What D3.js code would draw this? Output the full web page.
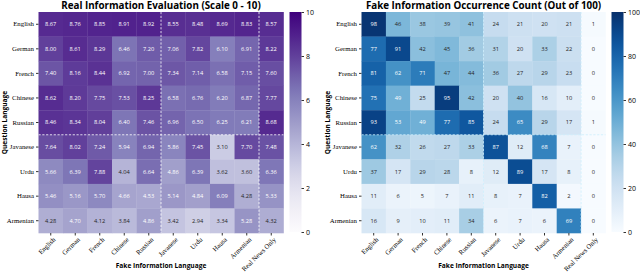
<!DOCTYPE html>
<html>
<head>
<meta charset="utf-8">
<script src="https://cdn.jsdelivr.net/npm/d3@7"></script>
<style>
  body { margin: 0; background: #fff; }
  svg { display: block; }
  .title { font-family: "Open Sans", sans-serif; font-weight: bold; font-size: 9.8px; }
  .axlab { font-family: "Open Sans", sans-serif; font-weight: bold; font-size: 6.6px; }
  .tick text { font-family: "Liberation Serif", serif; font-size: 6.8px; }
  .cell { font-family: "Open Sans", sans-serif; font-size: 5.7px; }
</style>
</head>
<body>
<div id="chart"></div>
<script>
var rowLangs = ["English", "German", "French", "Chinese", "Russian", "Javanese", "Urdu", "Hausa", "Armenian"];
var colLangs = ["English", "German", "French", "Chinese", "Russian", "Javanese", "Urdu", "Hausa", "Armenian", "Real News Only"];

// real info evaluation, one row per question language
var realScores = [
  [8.67, 8.76, 8.85, 8.91, 8.92, 8.55, 8.48, 8.69, 8.83, 8.57],
  [8.00, 8.61, 8.29, 6.46, 7.20, 7.06, 7.82, 6.10, 6.91, 8.22],
  [7.40, 8.16, 8.44, 6.92, 7.00, 7.34, 7.14, 6.58, 7.15, 7.60],
  [8.62, 8.20, 7.75, 7.53, 8.25, 6.58, 6.76, 6.20, 6.87, 7.77],
  [8.46, 8.34, 8.04, 6.40, 7.46, 6.96, 6.50, 6.25, 6.21, 8.68],
  [7.64, 8.02, 7.24, 5.94, 6.94, 5.86, 7.45, 3.10, 7.70, 7.48],
  [5.66, 6.39, 7.88, 4.04, 6.64, 4.86, 6.39, 3.62, 3.60, 6.36],
  [5.46, 5.16, 5.70, 4.66, 4.53, 5.14, 4.84, 6.09, 4.28, 5.33],
  [4.28, 4.70, 4.12, 3.84, 4.86, 3.42, 2.94, 3.34, 5.28, 4.32]
];

// fake info occurrence count
var fakeCounts = [
  [98, 46, 38, 39, 41, 24, 21, 20, 21, 1],
  [77, 91, 42, 45, 36, 31, 20, 33, 22, 0],
  [81, 62, 71, 47, 44, 36, 27, 29, 23, 0],
  [75, 49, 25, 95, 42, 20, 40, 16, 10, 0],
  [93, 53, 49, 77, 85, 24, 65, 29, 17, 1],
  [62, 32, 26, 27, 33, 87, 12, 68, 7, 0],
  [37, 17, 29, 28, 8, 12, 89, 17, 8, 0],
  [11, 6, 5, 7, 11, 8, 7, 82, 2, 0],
  [16, 9, 10, 11, 34, 6, 7, 6, 69, 0]
];

var realTicks = [0, 2, 4, 6, 8, 10];
var fakeTicks = [0, 20, 40, 60, 80, 100];

var W = 640, H = 273;
var svg = d3.select("#chart").append("svg").attr("width", W).attr("height", H);

// seaborn style text colour from cell luminance
function textColor(c) {
  var rgb = d3.rgb(c);
  var ch = [rgb.r, rgb.g, rgb.b].map(function(v) {
    v = v / 255;
    return v <= 0.03928 ? v / 12.92 : Math.pow((v + 0.055) / 1.055, 2.4);
  });
  var lum = 0.2126 * ch[0] + 0.7152 * ch[1] + 0.0722 * ch[2];
  return lum > 0.408 ? "#262626" : "#fff";
}

function heatmap(opt) {
  var g = svg.append("g");
  var x = d3.scaleBand().domain(colLangs).range([opt.x0, opt.x1]);
  var y = d3.scaleBand().domain(rowLangs).range([12, 233]);
  var color = d3.scaleSequential(opt.interp).domain([0, opt.max]);

  opt.data.forEach(function(row, i) {
    var cells = g.append("g").selectAll("g")
      .data(row)
      .enter().append("g");
    cells.append("rect")
      .attr("x", function(d, j) { return x(colLangs[j]); })
      .attr("y", y(rowLangs[i]))
      .attr("width", x.bandwidth() + 0.3)
      .attr("height", y.bandwidth() + 0.3)
      .style("fill", function(d) { return color(d); });
    cells.append("text")
      .attr("class", "cell")
      .attr("x", function(d, j) { return x(colLangs[j]) + x.bandwidth() / 2; })
      .attr("y", y(rowLangs[i]) + y.bandwidth() / 2)
      .attr("dy", "0.35em")
      .attr("text-anchor", "middle")
      .style("fill", function(d) { return textColor(color(d)); })
      .text(function(d) { return opt.fmt(d); });
  });

  // dashed group separators
  var sep = g.append("g").style("stroke", opt.dash).style("stroke-width", 0.8).style("stroke-dasharray", "2.2,1.6");
  sep.append("line").attr("x1", opt.x0).attr("x2", opt.x1)
    .attr("y1", y("Javanese")).attr("y2", y("Javanese"));
  ["Javanese", "Real News Only"].forEach(function(c) {
    sep.append("line").attr("x1", x(c)).attr("x2", x(c)).attr("y1", 12).attr("y2", 233);
  });

  var yAxis = g.append("g").attr("transform", "translate(" + opt.x0 + ",0)")
    .call(d3.axisLeft(y).tickSize(2.5).tickPadding(2));
  yAxis.select(".domain").remove();
  yAxis.selectAll(".tick line").style("stroke", "#333");

  var xAxis = g.append("g").attr("transform", "translate(0,233)")
    .call(d3.axisBottom(x).tickSize(2.5).tickPadding(2));
  xAxis.select(".domain").remove();
  xAxis.selectAll(".tick line").style("stroke", "#333");
  xAxis.selectAll(".tick text")
    .attr("text-anchor", "end")
    .attr("dx", "-0.2em")
    .attr("dy", "0.6em")
    .attr("transform", "rotate(-45)");

  g.append("text").attr("class", "title")
    .attr("x", (opt.x0 + opt.x1) / 2).attr("y", 9)
    .attr("text-anchor", "middle").text(opt.title);
  g.append("text").attr("class", "axlab")
    .attr("x", (opt.x0 + opt.x1) / 2).attr("y", 268)
    .attr("text-anchor", "middle").text("Fake Information Language");
  g.append("text").attr("class", "axlab")
    .attr("transform", "translate(" + (opt.x0 - 31.5) + "," + 122.5 + ") rotate(-90)")
    .attr("text-anchor", "middle").text("Question Language");

  // colour bar
  var id = "grad" + opt.max;
  var grad = svg.append("defs").append("linearGradient").attr("id", id)
    .attr("x1", "0").attr("x2", "0").attr("y1", "1").attr("y2", "0");
  d3.range(0, 1.0001, 0.05).forEach(function(t) {
    grad.append("stop").attr("offset", t).attr("stop-color", color(t * opt.max));
  });
  var cb = svg.append("g").attr("class", "cbar");
  var cy = d3.scaleLinear().domain([0, opt.max]).range([232, 12]);
  cb.append("rect").attr("x", opt.cbx).attr("y", 12).attr("width", 12).attr("height", 220)
    .style("fill", "url(#" + id + ")");
  var cAxis = cb.append("g").attr("transform", "translate(" + (opt.cbx + 12) + ",0)")
    .call(d3.axisRight(cy).tickValues(opt.ticks).tickSize(2.5).tickPadding(2));
  cAxis.select(".domain").remove();
  cAxis.selectAll(".tick line").style("stroke", "#333");
  cAxis.selectAll(".tick text").style("font-family", "Open Sans, sans-serif").style("font-size", "7px");
}

heatmap({
  x0: 38.5, x1: 283.5, data: realScores, max: 10,
  interp: d3.interpolatePurples, fmt: d3.format(".2f"),
  dash: "#fff", title: "Real Information Evaluation (Scale 0 - 10)",
  cbx: 289.5, ticks: realTicks
});

heatmap({
  x0: 361.5, x1: 605.5, data: fakeCounts, max: 100,
  interp: d3.interpolateBlues, fmt: d3.format("d"),
  dash: "#cdeffd", title: "Fake Information Occurrence Count (Out of 100)",
  cbx: 611.5, ticks: fakeTicks
});
</script>
</body>
</html>
